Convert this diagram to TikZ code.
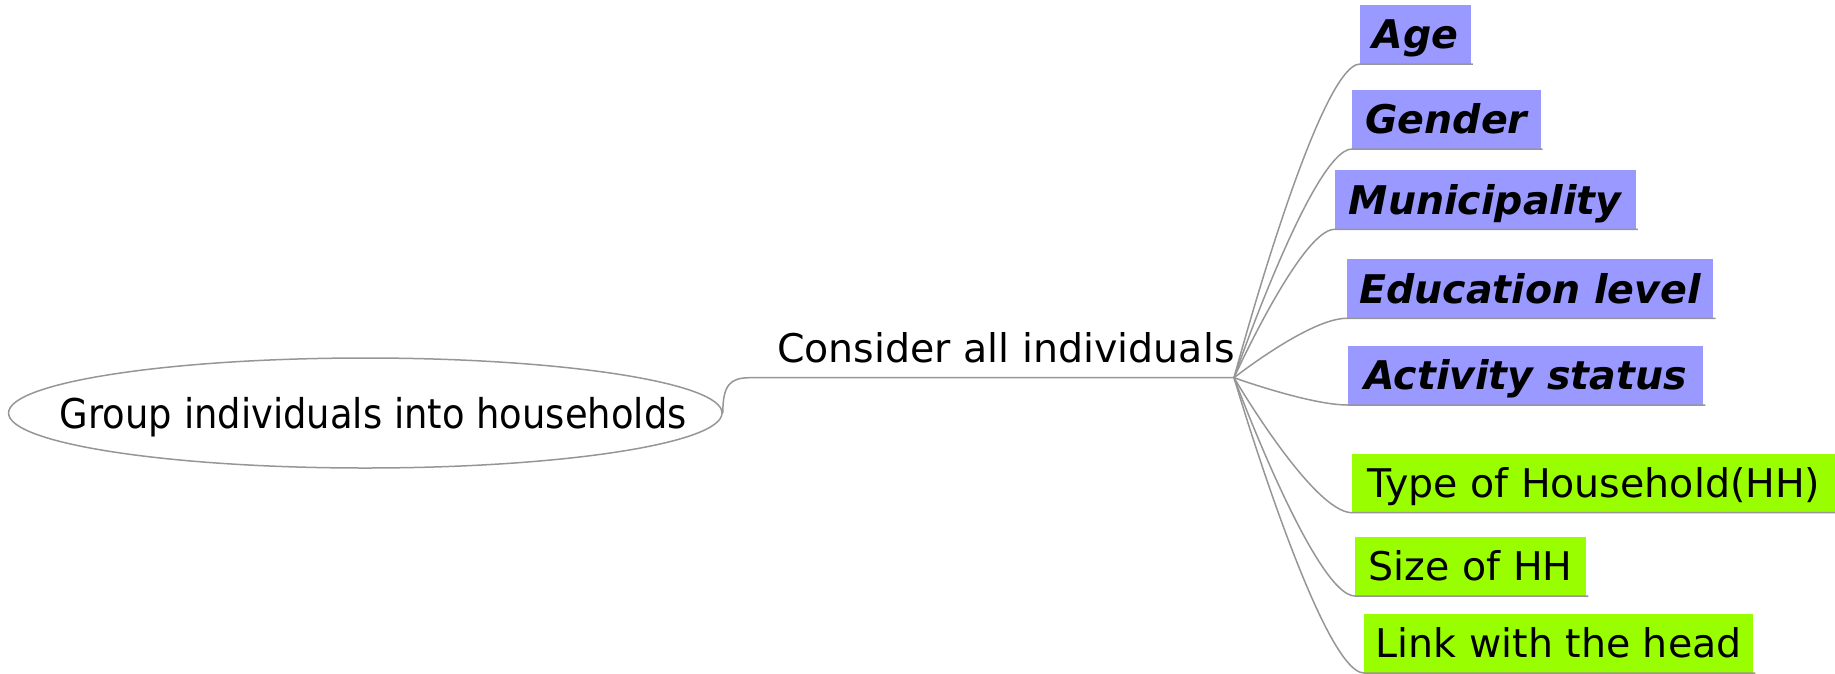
\documentclass[tikz,border=0pt]{standalone}
\usepackage{fontspec}
\setmainfont{DejaVu Sans}
\newfontfamily\condfont[FakeStretch=0.9]{DejaVu Sans}
\usetikzlibrary{shapes.geometric,calc}
\definecolor{boxblue}{RGB}{153,153,255}
\definecolor{boxgreen}{RGB}{153,255,0}
\definecolor{edgegray}{RGB}{150,150,150}
\begin{document}
\begin{tikzpicture}[x=1pt,y=-1pt,
  attr/.style={fill=boxblue, font=\fontsize{39.5}{47}\selectfont\bfseries\itshape,
    text height=29pt, text depth=0pt, inner ysep=15pt, inner xsep=0pt, anchor=south west},
  hh/.style={attr, fill=boxgreen, font=\fontsize{39.5}{47}\selectfont},
  edge/.style={draw=edgegray, line width=1.5pt}]
\useasboundingbox (0,0) rectangle (1835,673);

% root ellipse
\node[edge, ellipse, minimum width=713.5pt, minimum height=110pt, inner sep=0pt,
  text height=30pt, text depth=0pt, font=\condfont\fontsize{41}{49}\selectfont]
  (root) at (365.3,413) {\makebox[0pt][c]{\hspace*{16pt}Group individuals into households}};

% middle node
\node[font=\fontsize{39.5}{47}\selectfont, anchor=base west, inner sep=0pt]
  (cons) at (776.8,362) {Consider all individuals};
\coordinate (fork) at (750,377.7);
\coordinate (hub) at (1234,377.7);

% attribute boxes
\node[attr, minimum width=110.5pt] (age) at (1360,64) {Age};
\node[attr, minimum width=188.3pt] (gender) at (1352,149) {Gender};
\node[attr, minimum width=301pt] (muni) at (1334.5,229.3) {Municipality};
\node[attr, minimum width=366.6pt] (edu) at (1346.6,318.3) {Education level};
\node[attr, minimum width=355.2pt] (act) at (1347.8,405) {Activity status};
\node[hh, minimum width=483.1pt] (type) at (1352,512.7) {Type of Household(HH)};
\node[hh, minimum width=231pt] (size) at (1355,596) {Size of HH};
\node[hh, minimum width=389pt] (link) at (1364,673) {Link with the head};

% connectors
\draw[edge] (root.east) .. controls ($(root.east)+(0,-28)$) and ($(fork)+(-20,0)$) .. (fork) -- (hub);
\foreach \n/\d in {age/42,gender/39,muni/33,edu/37,act/38,type/39,size/40,link/43}{
  \draw[edge] (hub) .. controls (hub) and ($(\n.south west)+(-\d,0)$) .. (\n.south west)
    -- ($(\n.south east)+(2,0)$);
}
\end{tikzpicture}
\end{document}
